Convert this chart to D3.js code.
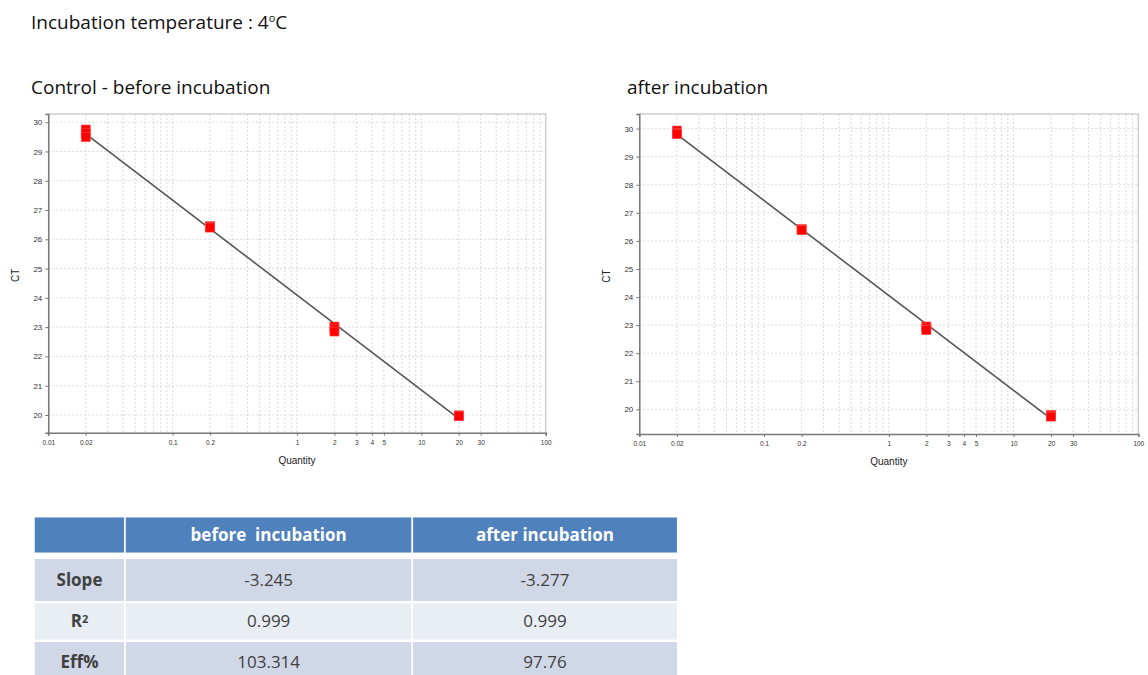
<!DOCTYPE html>
<html>
<head>
<meta charset="utf-8">
<script src="https://cdn.jsdelivr.net/npm/d3@7"></script>
<style>
  body { margin: 0; background: #fff; }
  svg { display: block; }
</style>
</head>
<body>
<svg id="chart" width="1148" height="675"></svg>
<script>
// standard curve data (quantity, CT), replicates overlap
const beforeQty = [0.02, 0.02, 0.02, 0.2, 0.2, 0.2, 2, 2, 2, 20, 20, 20];
const beforeCt = [29.75, 29.62, 29.49, 26.45, 26.42, 26.40, 23.02, 22.95, 22.85, 19.99, 19.97, 19.96];
const afterQty = [0.02, 0.02, 0.02, 0.2, 0.2, 0.2, 2, 2, 2, 20, 20, 20];
const afterCt = [29.93, 29.84, 29.80, 26.42, 26.40, 26.38, 22.95, 22.88, 22.82, 19.80, 19.77, 19.74];

const xTickLabels = [0.01, 0.02, 0.1, 0.2, 1, 2, 3, 4, 5, 10, 20, 30, 100];
const yTickLabels = [20, 21, 22, 23, 24, 25, 26, 27, 28, 29, 30];

const tableColumns = ["", "before  incubation", "after incubation"];
const tableRows = ["Slope", "R2", "Eff%"];
const beforeStats = ["-3.245", "0.999", "103.314"];
const afterStats = ["-3.277", "0.999", "97.76"];

const svg = d3.select("#chart");
const titleFont = "'Open Sans', Lato, sans-serif";
const axisFont = "'Liberation Sans', Arial, sans-serif";

// page titles
const t = svg.append("text")
    .attr("x", 31).attr("y", 29)
    .style("font-family", titleFont).style("font-size", "19px").attr("fill", "#111")
    .text("Incubation temperature : 4");
t.append("tspan").attr("dy", -7).style("font-size", "11px").text("o");
t.append("tspan").attr("dy", 7).text("C");

svg.append("text")
    .attr("x", 31).attr("y", 94)
    .style("font-family", titleFont).style("font-size", "19px").attr("fill", "#111")
    .text("Control - before incubation");

svg.append("text")
    .attr("x", 627).attr("y", 94)
    .style("font-family", titleFont).style("font-size", "19px").attr("fill", "#111")
    .text("after incubation");

function drawCurve(qty, ct, box, yDomain){
    const x = d3.scaleLog().domain([0.01, 100]).range([box.left, box.right]);
    const y = d3.scaleLinear().domain(yDomain).range([box.bottom, box.top]);
    const g = svg.append("g");

    // dotted grid
    g.selectAll("line.vgrid")
        .data(x.ticks())
        .join("line")
        .attr("class", "vgrid")
        .attr("x1", d => x(d)).attr("x2", d => x(d))
        .attr("y1", box.top).attr("y2", box.bottom)
        .attr("stroke", "#dadada").attr("stroke-width", 1)
        .attr("stroke-dasharray", "2,2");
    g.selectAll("line.hgrid")
        .data(yTickLabels)
        .join("line")
        .attr("class", "hgrid")
        .attr("x1", box.left).attr("x2", box.right)
        .attr("y1", d => y(d)).attr("y2", d => y(d))
        .attr("stroke", "#dadada").attr("stroke-width", 1)
        .attr("stroke-dasharray", "2,2");

    // light frame on top/right
    g.append("path")
        .attr("d", `M${box.left},${box.top}H${box.right}V${box.bottom}`)
        .attr("fill", "none").attr("stroke", "#cfcfcf").attr("stroke-width", 1.5);

    // axes
    const xAxis = g.append("g")
        .attr("transform", `translate(0,${box.bottom})`)
        .call(d3.axisBottom(x).tickValues(xTickLabels).tickFormat(d3.format("~g")).tickSize(3));
    xAxis.select(".domain").attr("stroke", "#777").attr("stroke-width", 1.5);
    xAxis.selectAll(".tick line").attr("stroke", "#777");
    xAxis.selectAll("text").attr("dy", "0.9em")
        .style("font-family", axisFont).style("font-size", "6.5px").attr("fill", "#333");

    const yAxis = g.append("g")
        .attr("transform", `translate(${box.left},0)`)
        .call(d3.axisLeft(y).tickValues(yTickLabels).tickSize(3));
    yAxis.select(".domain").attr("stroke", "#777").attr("stroke-width", 1.5);
    yAxis.selectAll(".tick line").attr("stroke", "#777");
    yAxis.selectAll("text")
        .style("font-family", axisFont).style("font-size", "8px").attr("fill", "#333");

    g.append("text")
        .attr("x", x(1)).attr("y", box.bottom + 31)
        .attr("text-anchor", "middle")
        .style("font-family", axisFont).style("font-size", "10px").attr("fill", "#222")
        .text("Quantity");
    g.append("text")
        .attr("transform", `translate(${box.left - 29},${(box.top + box.bottom) / 2 + 2}) rotate(-90)`)
        .attr("text-anchor", "middle")
        .style("font-family", axisFont).style("font-size", "10px").attr("fill", "#222")
        .text("CT");

    // least squares fit of CT against log10(quantity)
    const lx = qty.map(q => Math.log10(q));
    const mx = d3.mean(lx), my = d3.mean(ct);
    const sxy = d3.sum(lx, (v, i) => (v - mx) * (ct[i] - my));
    const sxx = d3.sum(lx, v => (v - mx) ** 2);
    const slope = sxy / sxx;
    const ends = d3.extent(qty);
    g.append("line")
        .attr("x1", x(ends[0])).attr("x2", x(ends[1]))
        .attr("y1", y(my + slope * (Math.log10(ends[0]) - mx)))
        .attr("y2", y(my + slope * (Math.log10(ends[1]) - mx)))
        .attr("stroke", "#555").attr("stroke-width", 1.6);

    const size = 9;
    g.selectAll("rect.pt")
        .data(qty.map((q, i) => [q, ct[i]]))
        .join("rect")
        .attr("class", "pt")
        .attr("x", d => x(d[0]) - size / 2)
        .attr("y", d => y(d[1]) - size / 2)
        .attr("width", size).attr("height", size)
        .attr("fill", "#ff0000")
        .attr("stroke", "#ff4a4a").attr("stroke-width", 0.6);
}

drawCurve(beforeQty, beforeCt, {left: 48.3, right: 545.7, top: 114, bottom: 432.7}, [19.395, 30.28]);
drawCurve(afterQty, afterCt, {left: 639.3, right: 1138.3, top: 114, bottom: 434}, [19.12, 30.52]);

// summary table
const colEdges = [34, 125, 412.3, 677.7];
const rowEdges = [[516.7, 553.3], [558.3, 601.7], [602.7, 640.3], [641.3, 684]];
const rowFill = ["#4f81bd", "#d0d8e8", "#e9edf4", "#d0d8e8"];
const tableFont = "'Open Sans', 'Noto Sans', sans-serif";
const table = svg.append("g");

const cells = [];
rowEdges.forEach((r, ri) => {
    colEdges.slice(0, -1).forEach((c, ci) => {
        let label;
        if(ri === 0) label = tableColumns[ci];
        else if(ci === 0) label = tableRows[ri - 1];
        else if(ci === 1) label = beforeStats[ri - 1];
        else label = afterStats[ri - 1];
        cells.push({ri, ci, x0: c, x1: colEdges[ci + 1], y0: r[0], y1: r[1], label});
    });
});

table.selectAll("rect")
    .data(cells)
    .join("rect")
    .attr("x", d => d.x0).attr("y", d => d.y0)
    .attr("width", d => d.x1 - d.x0).attr("height", d => d.y1 - d.y0)
    .attr("fill", d => rowFill[d.ri])
    .attr("stroke", "#fff").attr("stroke-width", 1.5);

const cellText = table.selectAll("text")
    .data(cells.filter(d => d.label))
    .join("text")
    .attr("x", d => (d.x0 + d.x1) / 2)
    .attr("y", d => (d.ri === 3 ? 661.7 : (d.y0 + d.y1) / 2))
    .attr("dy", "0.35em")
    .attr("text-anchor", "middle")
    .style("white-space", "pre")
    .style("font-family", tableFont)
    .style("font-size", "17px")
    .style("font-weight", d => (d.ri === 0 || d.ci === 0) ? "bold" : "normal")
    .attr("fill", d => d.ri === 0 ? "#fff" : "#404040")
    .text(d => d.label === "R2" ? "R" : d.label);

cellText.filter(d => d.label === "R2")
    .append("tspan")
    .attr("dy", "-0.45em")
    .style("font-size", "11px")
    .text("2");
</script>
</body>
</html>
